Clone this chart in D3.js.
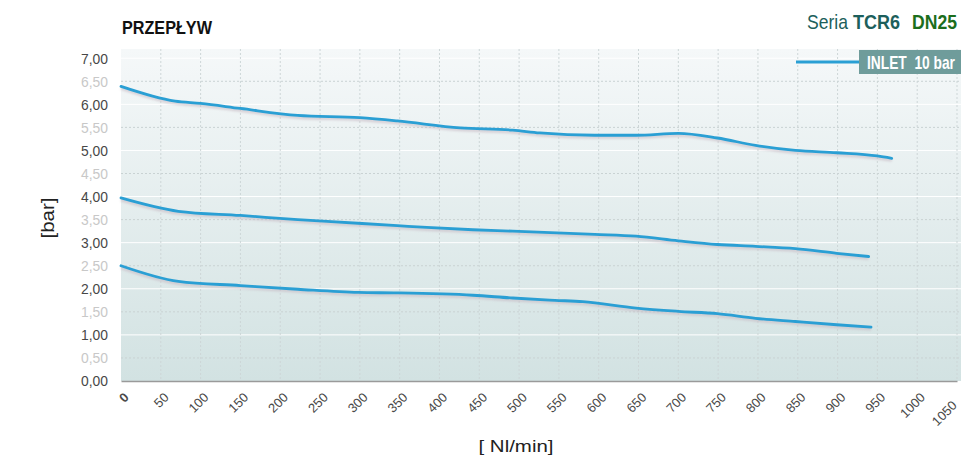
<!DOCTYPE html>
<html>
<head>
<meta charset="utf-8">
<script src="https://cdn.jsdelivr.net/npm/d3@7"></script>
<style>
  body { margin: 0; background: #fff; }
  svg { display: block; }
</style>
</head>
<body>
<svg id="chart"></svg>
<script>
// flow [Nl/min] and outlet pressure [bar]
const flowHigh = [0, 68, 100, 150, 222, 300, 347, 426, 492, 526, 595, 647, 700, 749, 797, 847, 899, 950, 968];
const pressHigh = [6.39, 6.07, 6.02, 5.91, 5.76, 5.71, 5.64, 5.49, 5.44, 5.38, 5.33, 5.33, 5.37, 5.27, 5.11, 5.00, 4.95, 4.88, 4.83];

const flowMid = [0, 72, 150, 222, 259, 347, 384, 442, 492, 595, 647, 700, 749, 797, 847, 899, 939];
const pressMid = [3.97, 3.68, 3.59, 3.50, 3.46, 3.37, 3.33, 3.28, 3.25, 3.18, 3.14, 3.04, 2.96, 2.92, 2.87, 2.77, 2.70];

const flowLow = [0, 72, 150, 222, 298, 347, 442, 492, 545, 580, 647, 700, 749, 797, 847, 899, 942];
const pressLow = [2.50, 2.16, 2.07, 1.99, 1.92, 1.91, 1.86, 1.80, 1.75, 1.72, 1.58, 1.51, 1.46, 1.36, 1.29, 1.22, 1.17];

const xTicks = d3.range(0, 1051, 50);
const yTicks = d3.range(0, 7.01, 0.5);
const legendLabel = "INLET  10 bar";

const width = 961, height = 456;
const margin = { top: 49, right: 4, bottom: 75, left: 121 };
const sans = "'Liberation Sans', Arial, sans-serif";

const svg = d3.select("#chart").attr("width", width).attr("height", height);

const x = d3.scaleLinear().domain([0, 1050]).range([margin.left, 957]);
const y = d3.scaleLinear().domain([0, 7.2]).range([height - margin.bottom, margin.top]);

// squeeze a text horizontally so it fills a given width (condensed look)
function narrowText(sel, x0, y0, w) {
    sel.each(function () {
        const k = w / this.getComputedTextLength();
        d3.select(this).attr("transform", `translate(${x0},${y0}) scale(${k},1)`);
    });
}

// background gradient of the plot area
const defs = svg.append("defs");
const grad = defs.append("linearGradient").attr("id", "bg").attr("x1", 0).attr("y1", 0).attr("x2", 0).attr("y2", 1);
grad.append("stop").attr("offset", "0%").attr("stop-color", "#f5f8f9");
grad.append("stop").attr("offset", "100%").attr("stop-color", "#d2e2e2");

const blur = defs.append("filter").attr("id", "shadow");
blur.append("feGaussianBlur").attr("stdDeviation", 1.2);

svg.append("rect")
    .attr("x", margin.left)
    .attr("y", margin.top)
    .attr("width", width - margin.left)
    .attr("height", y(0) - margin.top)
    .attr("fill", "url(#bg)");

// grid: dashed grey on the half values, white on whole values
svg.append("g").selectAll("line")
    .data(yTicks.filter(v => v > 0))
    .enter().append("line")
    .attr("x1", margin.left)
    .attr("x2", width)
    .attr("y1", d => y(d))
    .attr("y2", d => y(d))
    .attr("stroke", d => Number.isInteger(d) ? "#ffffff" : "#c9d2d3")
    .attr("stroke-width", 1)
    .attr("stroke-dasharray", d => Number.isInteger(d) ? null : "2,2");

svg.append("g").selectAll("line")
    .data(xTicks.filter(v => v > 0))
    .enter().append("line")
    .attr("x1", d => x(d))
    .attr("x2", d => x(d))
    .attr("y1", margin.top)
    .attr("y2", y(0))
    .attr("stroke", "#cdd6d7")
    .attr("stroke-dasharray", "2,2");

// axes
const yAxis = svg.append("g")
    .attr("transform", `translate(${margin.left},0)`)
    .call(d3.axisLeft(y).tickValues(yTicks).tickSize(0).tickPadding(13)
        .tickFormat(d => d.toFixed(2).replace(".", ",")));
yAxis.select(".domain").remove();
yAxis.selectAll("text")
    .attr("font-family", sans)
    .attr("font-size", 15)
    .attr("textLength", 27)
    .attr("lengthAdjust", "spacingAndGlyphs")
    .attr("fill", d => Number.isInteger(d) ? "#474747" : "#c8c8c8");

const xAxis = svg.append("g")
    .attr("transform", `translate(0,${y(0)})`)
    .call(d3.axisBottom(x).tickValues(xTicks).tickSize(0).tickPadding(0).tickFormat(d3.format("d")));
xAxis.select(".domain").attr("stroke", "#9a9a9a").attr("stroke-width", 1.5);
xAxis.selectAll("text")
    .attr("font-family", sans)
    .attr("font-size", 13)
    .attr("fill", "#4a4a4a")
    .attr("font-weight", d => d === 0 ? "bold" : "normal")
    .attr("text-anchor", "end")
    .attr("y", 0)
    .attr("dy", "0.35em")
    // last label slid down its own diagonal so it stays inside the page
    .attr("transform", d => d === 1050 ? "translate(-3,22) rotate(-45)" : "translate(5,14) rotate(-45)");

// curves
const line = d3.line()
    .x(d => x(d[0]))
    .y(d => y(d[1]))
    .curve(d3.curveMonotoneX);

const series = [
    d3.zip(flowHigh, pressHigh),
    d3.zip(flowMid, pressMid),
    d3.zip(flowLow, pressLow)
];

svg.append("g").selectAll("path")
    .data(series)
    .enter().append("path")
    .attr("d", line)
    .attr("transform", "translate(0,2)")
    .attr("fill", "none")
    .attr("stroke", "#c6b8c2")
    .attr("stroke-width", 3)
    .attr("opacity", 0.6)
    .attr("filter", "url(#shadow)");

svg.append("g").selectAll("path")
    .data(series)
    .enter().append("path")
    .attr("d", line)
    .attr("fill", "none")
    .attr("stroke", "#2a9fd4")
    .attr("stroke-width", 2.8)
    .attr("stroke-linecap", "round");

// legend
svg.append("line")
    .attr("x1", 796).attr("x2", 860)
    .attr("y1", 62).attr("y2", 62)
    .attr("stroke", "#2a9fd4")
    .attr("stroke-width", 2.8);
svg.append("rect")
    .attr("x", 859).attr("y", 50)
    .attr("width", 102).attr("height", 24)
    .attr("fill", "#6f9c9b");
svg.append("text")
    .attr("font-family", sans)
    .attr("font-weight", "bold")
    .attr("font-size", 18)
    .attr("fill", "#fff")
    .attr("xml:space", "preserve")
    .text(legendLabel)
    .call(narrowText, 867, 69, 88);

// titles
svg.append("text")
    .attr("font-family", sans)
    .attr("font-weight", "bold")
    .attr("font-size", 19)
    .attr("fill", "#111")
    .text("PRZEPŁYW")
    .call(narrowText, 122, 34, 90);

const serie = [
    { t: "Seria", x: 807, w: 41, c: "#1d5f5c", b: "normal" },
    { t: "TCR6", x: 853, w: 47, c: "#1d5f5c", b: "bold" },
    { t: "DN25", x: 912, w: 45, c: "#1c6e1c", b: "bold" }
];
serie.forEach(d => {
    svg.append("text")
        .attr("font-family", sans)
        .attr("font-size", 20)
        .attr("font-weight", d.b)
        .attr("fill", d.c)
        .text(d.t)
        .call(narrowText, d.x, 29, d.w);
});

svg.append("text")
    .attr("transform", "translate(54,218) rotate(-90)")
    .attr("text-anchor", "middle")
    .attr("font-family", sans)
    .attr("font-size", 18)
    .attr("fill", "#222")
    .attr("textLength", 41)
    .attr("lengthAdjust", "spacingAndGlyphs")
    .text("[bar]");

svg.append("text")
    .attr("x", 516).attr("y", 452)
    .attr("text-anchor", "middle")
    .attr("font-family", sans)
    .attr("font-size", 17)
    .attr("fill", "#222")
    .attr("textLength", 75)
    .attr("lengthAdjust", "spacingAndGlyphs")
    .text("[ Nl/min]");
</script>
</body>
</html>
